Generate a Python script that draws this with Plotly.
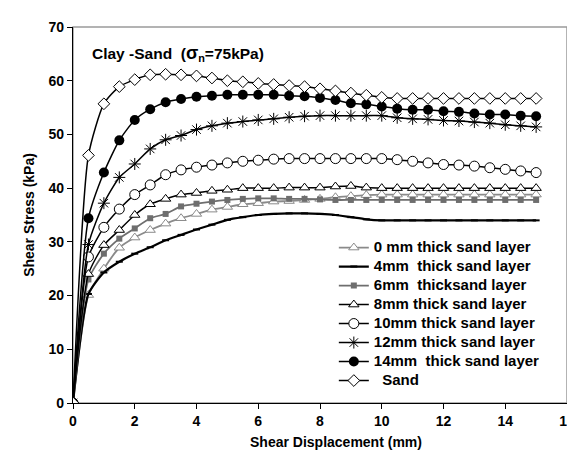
import plotly.graph_objects as go

displacement = [i * 0.5 for i in range(31)]

s0mm = [0, 20.1, 25.0, 28.9, 30.8, 32.2, 33.4, 34.4, 35.2, 36.0, 36.5, 37.0, 37.2, 37.5, 37.6, 37.8,
        38.0, 38.3, 38.5, 38.7, 38.8, 38.8, 38.8, 38.8, 38.8, 38.8, 38.8, 38.8, 38.8, 38.8, 38.8]
s4mm = [0, 20.3, 24.3, 26.3, 27.8, 29.0, 30.3, 31.3, 32.3, 33.2, 34.1, 34.6, 35.0, 35.2, 35.3, 35.3,
        35.2, 35.0, 34.6, 34.2, 34.0, 34.0, 34.0, 34.0, 34.0, 34.0, 34.0, 34.0, 34.0, 34.0, 34.0]
s6mm = [0, 23.0, 27.8, 30.6, 32.5, 34.4, 35.2, 36.6, 37.1, 37.5, 37.8, 38.0, 38.1, 38.1, 38.0, 38.0,
        37.9, 37.8, 37.8, 37.8, 37.8, 37.8, 37.8, 37.8, 37.8, 37.8, 37.8, 37.8, 37.8, 37.8, 37.8]
s8mm = [0, 24.0, 29.4, 32.2, 35.0, 37.0, 38.0, 38.8, 39.1, 39.5, 39.7, 40.0, 40.0, 40.0, 40.1, 40.1,
        40.1, 40.3, 40.4, 40.1, 40.0, 40.0, 40.0, 40.0, 40.0, 40.0, 40.0, 40.0, 40.0, 40.0, 40.0]
s10mm = [0, 27.2, 32.7, 36.1, 38.8, 40.6, 42.5, 43.4, 43.9, 44.3, 44.7, 45.0, 45.2, 45.4, 45.5, 45.5,
         45.5, 45.5, 45.5, 45.5, 45.5, 45.3, 45.0, 44.7, 44.4, 44.3, 44.1, 43.8, 43.5, 43.2, 42.9]
s12mm = [0, 29.5, 37.2, 42.0, 44.5, 47.3, 49.0, 49.8, 50.9, 51.6, 52.1, 52.4, 52.7, 52.9, 53.2, 53.4,
         53.5, 53.5, 53.5, 53.5, 53.5, 53.1, 52.9, 52.8, 52.6, 52.5, 52.3, 52.1, 51.8, 51.6, 51.4]
s14mm = [0, 34.4, 42.9, 48.9, 52.7, 54.7, 56.0, 56.6, 57.0, 57.2, 57.4, 57.4, 57.4, 57.4, 57.2, 57.1,
         56.8, 56.4, 55.8, 55.6, 55.2, 54.8, 54.6, 54.6, 54.3, 54.2, 53.9, 53.7, 53.7, 53.5, 53.4]
sand = [0, 46.1, 55.7, 58.9, 60.2, 61.1, 61.2, 61.1, 60.9, 60.5, 60.0, 59.8, 59.5, 59.3, 59.1, 58.9,
        58.5, 58.1, 57.7, 57.3, 56.9, 56.7, 56.7, 56.7, 56.7, 56.7, 56.7, 56.7, 56.7, 56.7, 56.7]

names = ["0 mm thick sand layer", "4mm\u00a0 thick sand layer", "6mm\u00a0 thicksand layer",
         "8mm thick sand layer", "10mm thick sand layer", "12mm thick sand layer",
         "14mm\u00a0 thick sand layer", "\u00a0\u00a0Sand"]

GRAY = "#8a8a8a"
DGRAY = "#6e6e6e"
styles = [
    dict(line=dict(color=GRAY, width=1.8),
         marker=dict(symbol="triangle-up", size=9, color="white", line=dict(color=GRAY, width=1))),
    dict(line=dict(color="black", width=2.2),
         marker=dict(symbol="line-ew-open", size=5, color="black", line=dict(color="black", width=2))),
    dict(line=dict(color=DGRAY, width=1.8),
         marker=dict(symbol="square", size=6, color=DGRAY, line=dict(color=DGRAY, width=0))),
    dict(line=dict(color="black", width=1.5),
         marker=dict(symbol="triangle-up", size=9, color="white", line=dict(color="black", width=1))),
    dict(line=dict(color="black", width=1.5),
         marker=dict(symbol="circle", size=10, color="white", line=dict(color="black", width=1))),
    dict(line=dict(color="black", width=1.5),
         marker=dict(symbol="asterisk-open", size=10, color="black", line=dict(color="black", width=1))),
    dict(line=dict(color="black", width=1.5),
         marker=dict(symbol="circle", size=10, color="black", line=dict(color="black", width=0))),
    dict(line=dict(color="black", width=1.5),
         marker=dict(symbol="diamond", size=9, color="white", line=dict(color="black", width=1))),
]

series = [s0mm, s4mm, s6mm, s8mm, s10mm, s12mm, s14mm, sand]

fig = go.Figure()
for name, ys, st in zip(names, series, styles):
    fig.add_trace(go.Scatter(x=displacement, y=ys, mode="lines+markers",
                             name="<span style='font-size:15px'>" + name + "</span>",
                             line=dict(shape="spline", smoothing=0.6, **st["line"]),
                             marker=st["marker"]))

FONT = "Liberation Sans, Arial, sans-serif"

fig.update_layout(
    width=575, height=452,
    margin=dict(l=65, r=8, t=19, b=57),
    paper_bgcolor="white", plot_bgcolor="white",
    font=dict(family=FONT, size=12, color="black"),
    showlegend=True,
    legend=dict(x=0.528, y=0.452, xanchor="left", yanchor="top",
                bgcolor="rgba(0,0,0,0)", font=dict(size=12.3, family=FONT, weight="bold"),
                traceorder="normal", itemwidth=30, tracegroupgap=0),
    xaxis=dict(range=[0, 16], dtick=2, tick0=0, showgrid=False, zeroline=False,
               showline=True, linecolor="black", linewidth=1.2,
               ticks="outside", ticklen=5, tickcolor="black",
               tickfont=dict(size=14, weight="bold")),
    yaxis=dict(range=[0, 70], dtick=10, tick0=0, showgrid=False, zeroline=False,
               showline=True, linecolor="black", linewidth=1.2,
               ticks="outside", ticklen=5, tickcolor="black",
               tickfont=dict(size=14, weight="bold"),
               title=dict(text="Shear Stress (kPa)",
                          font=dict(size=14, weight="bold"), standoff=10)),
    shapes=[dict(type="rect", xref="paper", yref="paper", x0=0, x1=1, y0=0, y1=1,
                 line=dict(color="#9a9a9a", width=1.5), layer="below")],
    annotations=[
        dict(x=0.034, y=0.93, xref="paper", yref="paper", xanchor="left", yanchor="middle",
             showarrow=False,
             text="Clay -Sand\u00a0 (<span style='font-size:18px'>σ</span><sub>n</sub>=75kPa)",
             font=dict(size=15.5, weight="bold")),
        dict(x=0.532, y=-0.104, xref="paper", yref="paper", xanchor="center", yanchor="middle",
             showarrow=False, text="Shear Displacement (mm)",
             font=dict(size=14, weight="bold")),
    ],
)

fig.write_html("out.html")
